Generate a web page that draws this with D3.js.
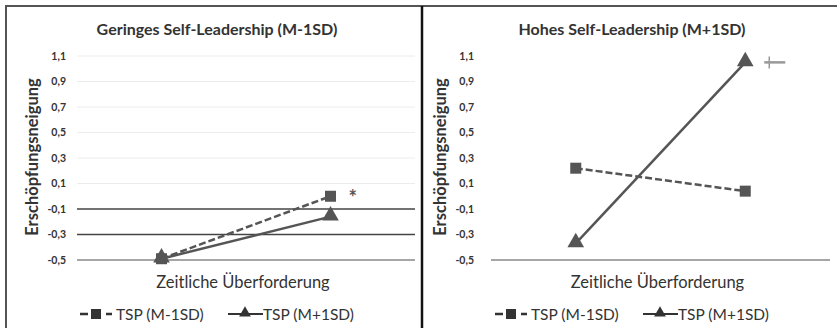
<!DOCTYPE html>
<html>
<head>
<meta charset="utf-8">
<script src="https://cdn.jsdelivr.net/npm/d3@7"></script>
<style>
  body { margin: 0; background: #fff; }
  svg { font-family: Lato, "Open Sans", sans-serif; }
</style>
</head>
<body>
<svg id="chart" width="837" height="328"></svg>
<script>
// data
var categories = ["niedrig", "hoch"];
var seriesNames = ["TSP (M-1SD)", "TSP (M+1SD)"];
var yTicks = [-0.5, -0.3, -0.1, 0.1, 0.3, 0.5, 0.7, 0.9, 1.1];

var lowSL_m1 = [-0.49, 0.00];
var lowSL_p1 = [-0.49, -0.16];
var highSL_m1 = [0.22, 0.04];
var highSL_p1 = [-0.37, 1.05];

var panelTitles = ["Geringes Self-Leadership (M-1SD)", "Hohes Self-Leadership (M+1SD)"];
var xTitle = "Zeitliche Überforderung";
var yTitle = "Erschöpfungsneigung";

var svg = d3.select("#chart");
var fmt = function(d) { return d3.format(".1f")(d).replace(".", ",").replace("−", "-"); };

// frame
svg.append("path")
    .attr("d", "M6,328 V6 H837")
    .attr("fill", "none")
    .attr("stroke", "#555")
    .attr("stroke-width", 2);
svg.append("line")
    .attr("x1", 422).attr("x2", 422)
    .attr("y1", 6).attr("y2", 328)
    .attr("stroke", "#111")
    .attr("stroke-width", 2.5);

function drawPanel(opt) {
    var g = svg.append("g");

    var x = d3.scaleBand().domain(categories).range([opt.x0, opt.x1]);
    var y = d3.scaleLinear().domain([-0.5, 1.1]).range([260, 56]);
    var cx = function(d, i) { return x(categories[i]) + x.bandwidth() / 2; };

    // title
    g.append("text")
        .attr("x", opt.titleX).attr("y", 35)
        .attr("text-anchor", "middle")
        .attr("font-size", 16).attr("font-weight", "bold")
        .attr("fill", "#333")
        .text(opt.title);

    // gridlines
    if (opt.grid) {
        g.selectAll(".grid").data(yTicks.filter(function(d) { return d > -0.5; }))
            .enter().append("line")
            .attr("x1", opt.x0).attr("x2", opt.x1)
            .attr("y1", function(d) { return y(d); })
            .attr("y2", function(d) { return y(d); })
            .attr("stroke", function(d) { return d < 0 ? "#444" : "#ececec"; })
            .attr("stroke-width", function(d) { return d < 0 ? 1.5 : 1; });
    }

    // y axis labels
    var yAxis = d3.axisLeft(y).tickValues(yTicks).tickFormat(fmt).tickSize(0).tickPadding(0);
    var ya = g.append("g")
        .attr("transform", "translate(" + opt.labelX + ",0)")
        .call(yAxis);
    ya.select(".domain").remove();
    ya.selectAll("text")
        .attr("font-family", "Lato, sans-serif")
        .attr("font-size", 10.5).attr("font-weight", "bold")
        .attr("fill", "#333");

    // x axis line
    g.append("line")
        .attr("x1", opt.x0).attr("x2", opt.x1)
        .attr("y1", y(-0.5)).attr("y2", y(-0.5))
        .attr("stroke", "#888").attr("stroke-width", 1.5);

    // axis titles
    g.append("text")
        .attr("x", (opt.x0 + opt.x1) / 2 - 3).attr("y", 288)
        .attr("text-anchor", "middle")
        .attr("font-size", 16.5).attr("fill", "#333")
        .text(xTitle);
    g.append("text")
        .attr("transform", "translate(" + (opt.labelX - 28) + ",157) rotate(-90)")
        .attr("text-anchor", "middle")
        .attr("font-size", 16.5).attr("font-weight", "bold").attr("fill", "#333")
        .text(yTitle);

    var line = d3.line().x(cx).y(function(d) { return y(d); });

    // series M-1SD (dashed, squares)
    g.append("path")
        .datum(opt.m1)
        .attr("d", line)
        .attr("fill", "none").attr("stroke", "#555")
        .attr("stroke-width", 2.5).attr("stroke-dasharray", "7,3");
    // series M+1SD (solid, triangles)
    g.append("path")
        .datum(opt.p1)
        .attr("d", line)
        .attr("fill", "none").attr("stroke", "#555")
        .attr("stroke-width", 2.5);

    g.selectAll(".sq").data(opt.m1).enter().append("rect")
        .attr("x", function(d, i) { return cx(d, i) - 5.5; })
        .attr("y", function(d) { return y(d) - 5.5; })
        .attr("width", 11).attr("height", 11)
        .attr("fill", "#555");
    var tri = d3.symbol().type(d3.symbolTriangle).size(120);
    g.selectAll(".tri").data(opt.p1).enter().append("path")
        .attr("d", tri)
        .attr("transform", function(d, i) { return "translate(" + cx(d, i) + "," + (y(d) - 1) + ")"; })
        .attr("fill", "#555");

    // significance marks
    opt.mark(g, x(categories[1]) + x.bandwidth() / 2, y);

    // legend
    var lg = g.append("g").attr("transform", "translate(" + opt.legendX + ",314)");
    lg.append("line").attr("x1", 0).attr("x2", 32).attr("y1", 0).attr("y2", 0)
        .attr("stroke", "#333").attr("stroke-width", 2.5).attr("stroke-dasharray", "8,5");
    lg.append("rect").attr("x", 11).attr("y", -5).attr("width", 10).attr("height", 10).attr("fill", "#333");
    lg.append("text").attr("x", 36).attr("y", 5.5)
        .attr("font-size", 15.5).attr("fill", "#333").text(seriesNames[0]);
    lg.append("line").attr("x1", 148).attr("x2", 183).attr("y1", 0).attr("y2", 0)
        .attr("stroke", "#333").attr("stroke-width", 2);
    lg.append("path").attr("d", d3.symbol().type(d3.symbolTriangle).size(60))
        .attr("transform", "translate(165,-1)").attr("fill", "#333");
    lg.append("text").attr("x", 183).attr("y", 5.5)
        .attr("font-size", 15.5).attr("fill", "#333").text(seriesNames[1]);
}

drawPanel({
    title: panelTitles[0], titleX: 217,
    x0: 77, x1: 415, labelX: 66, grid: true,
    m1: lowSL_m1, p1: lowSL_p1, legendX: 80,
    mark: function(g, hx, y) {
        g.append("text").attr("x", hx + 18).attr("y", y(0.0) + 9)
            .attr("font-size", 20).attr("font-weight", "bold").attr("fill", "#555").text("*");
    }
});

drawPanel({
    title: panelTitles[1], titleX: 632,
    x0: 491, x1: 830, labelX: 474, grid: false,
    m1: highSL_m1, p1: highSL_p1, legendX: 495,
    mark: function(g, hx, y) {
        var yy = y(1.05);
        g.append("line").attr("x1", hx + 19).attr("x2", hx + 40).attr("y1", yy).attr("y2", yy)
            .attr("stroke", "#999").attr("stroke-width", 2.5);
        g.append("line").attr("x1", hx + 24).attr("x2", hx + 24).attr("y1", yy - 6).attr("y2", yy + 6)
            .attr("stroke", "#999").attr("stroke-width", 1.5);
    }
});
</script>
</body>
</html>
